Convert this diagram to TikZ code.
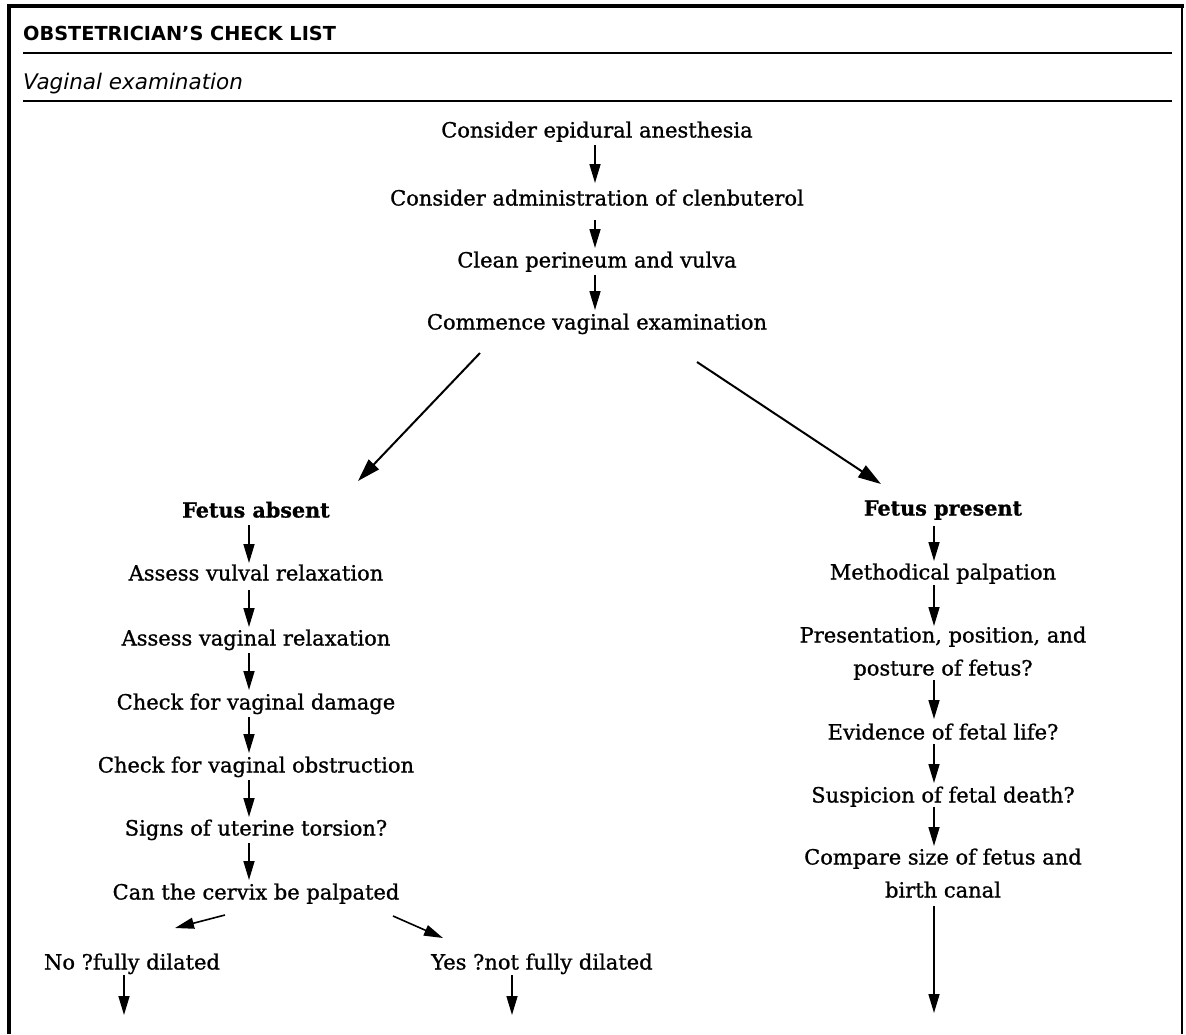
\documentclass[tikz,border=0pt]{standalone}
\usepackage{fontspec}
\setmainfont{DejaVu Serif}[FakeBold=1]
\newfontfamily\headfont{DejaVu Sans}
\usetikzlibrary{arrows.meta}

\tikzset{
  frame/.style={line width=4pt},
  rule/.style={line width=1.5pt},
  step text/.style={inner sep=0pt, anchor=base, align=center,
    font=\fontsize{21}{33}\selectfont},
  branch text/.style={step text, font=\fontsize{20.7}{33}\selectfont\bfseries},
  arr/.style={line width=1.6pt, -{Triangle[length=19pt,width=11pt]}},
  bigarr/.style={line width=2pt, -{Triangle[length=23pt,width=14pt]}},
}

\begin{document}
\begin{tikzpicture}[x=1pt, y=-1pt]
  \useasboundingbox (0,0) rectangle (1186,1034);

  % outer frame, open at the bottom
  \draw[frame] (9,1034) -- (9,6) -- (1184,6);
  \draw[line width=1.5pt] (1182,6) -- (1182,1034);

  % header
  \node[anchor=base west, inner sep=0pt, font=\headfont\bfseries\fontsize{19.3}{22}\selectfont]
    (title) at (23,40) {OBSTETRICIAN’S CHECK LIST};
  \draw[rule] (23,53) -- (1172,53);
  \node[anchor=base west, inner sep=0pt, font=\headfont\itshape\fontsize{21.5}{24}\selectfont]
    (sub) at (23,89) {Vaginal examination};
  \draw[rule] (23,101) -- (1172,101);

  % common steps
  \node[step text] (epi)   at (597,137.5) {Consider epidural anesthesia};
  \node[step text] (clen)  at (597,205.5) {Consider administration of clenbuterol};
  \node[step text] (clean) at (597,267.5) {Clean perineum and vulva};
  \node[step text] (comm)  at (597,329.5) {Commence vaginal examination};

  \draw[arr] ([shift={(-2,7.5)}]epi.base)   -- ([shift={(-2,-22.5)}]clen.base);
  \draw[arr] ([shift={(-2,14.5)}]clen.base) -- ([shift={(-2,-19.5)}]clean.base);
  \draw[arr] ([shift={(-2,7.5)}]clean.base) -- ([shift={(-2,-19.5)}]comm.base);

  % the two branches
  \node[branch text] (absent)  at (256,517.5) {Fetus absent};
  \node[branch text] (present) at (943,515.5) {Fetus present};

  \draw[bigarr] ([shift={(-117,23.5)}]comm.base) -- ([shift={(102,-36.5)}]absent.base);
  \draw[bigarr] ([shift={(100,32.5)}]comm.base)  -- ([shift={(-62,-31.5)}]present.base);

  % fetus absent
  \node[step text] (vulv) at (256,580.5) {Assess vulval relaxation};
  \node[step text] (vagr) at (256,645.5) {Assess vaginal relaxation};
  \node[step text] (dam)  at (256,709.5) {Check for vaginal damage};
  \node[step text] (obs)  at (256,772.5) {Check for vaginal obstruction};
  \node[step text] (tors) at (256,835.5) {Signs of uterine torsion?};
  \node[step text] (cerv) at (256,899.5) {Can the cervix be palpated};

  \draw[arr] ([shift={(-7,7.5)}]absent.base) -- ([shift={(-7,-17.5)}]vulv.base);
  \draw[arr] ([shift={(-7,9.5)}]vulv.base)   -- ([shift={(-7,-18.5)}]vagr.base);
  \draw[arr] ([shift={(-7,7.5)}]vagr.base)   -- ([shift={(-7,-19.5)}]dam.base);
  \draw[arr] ([shift={(-7,7.5)}]dam.base)    -- ([shift={(-7,-19.5)}]obs.base);
  \draw[arr] ([shift={(-7,7.5)}]obs.base)    -- ([shift={(-7,-18.5)}]tors.base);
  \draw[arr] ([shift={(-7,7.5)}]tors.base)   -- ([shift={(-7,-19.5)}]cerv.base);

  \node[step text, anchor=base] (no) at (132,969.5) {No ?fully dilated};
  \node[step text, anchor=base west] (yes) at (431,969.5) {Yes ?not fully dilated};

  \draw[arr] ([shift={(-31,15.5)}]cerv.base) -- ([shift={(43,-41.5)}]no.base);
  \draw[arr] ([shift={(137,16.5)}]cerv.base) -- ([shift={(12,-31.5)}]yes.base west);

  \coordinate (noend)  at (124,1015);
  \coordinate (yesend) at (512,1015);
  \draw[arr] ([shift={(-8,5.5)}]no.base) -- (noend);
  \draw[arr] ([shift={(81,5.5)}]yes.base west) -- (yesend);

  % fetus present (two-line nodes sit on the baseline of their last line)
  \node[step text] (palp) at (943,579.5) {Methodical palpation};
  \node[step text] (pres) at (943,675.5) {Presentation, position, and\\posture of fetus?};
  \node[step text] (life) at (943,739.5) {Evidence of fetal life?};
  \node[step text] (death) at (943,802.5) {Suspicion of fetal death?};
  \node[step text] (size) at (943,897.5) {Compare size of fetus and\\birth canal};

  \draw[arr] ([shift={(-9,10.5)}]present.base) -- ([shift={(-9,-18.5)}]palp.base);
  \draw[arr] ([shift={(-9,5.5)}]palp.base)     -- ([shift={(-9,-49.5)}]pres.base);
  \draw[arr] ([shift={(-9,4.5)}]pres.base)     -- ([shift={(-9,-20.5)}]life.base);
  \draw[arr] ([shift={(-9,4.5)}]life.base)     -- ([shift={(-9,-19.5)}]death.base);
  \draw[arr] ([shift={(-9,4.5)}]death.base)    -- ([shift={(-9,-51.5)}]size.base);

  \coordinate (sizeend) at (934,1013);
  \draw[arr] ([shift={(-9,8.5)}]size.base) -- (sizeend);
\end{tikzpicture}
\end{document}
